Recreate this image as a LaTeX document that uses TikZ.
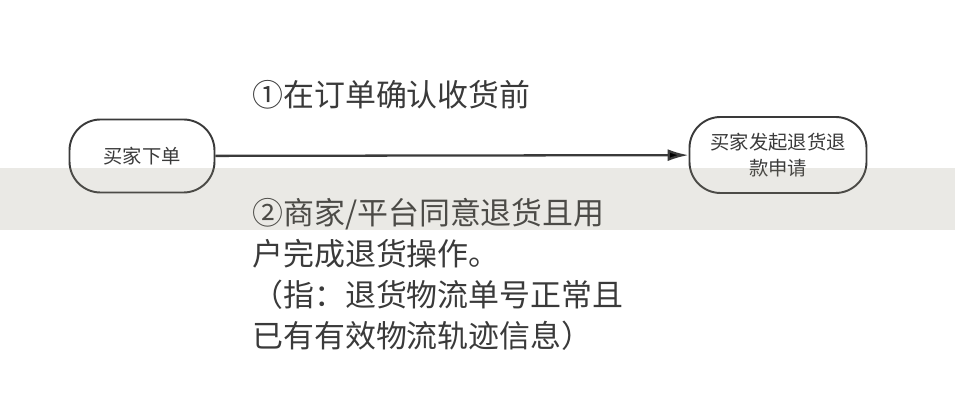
\documentclass[tikz,border=0pt]{standalone}
\usepackage{fontspec}
\setmainfont{Noto Sans CJK SC}
\usepackage{tikz}
\usetikzlibrary{arrows.meta}

\definecolor{ink}{RGB}{58,58,58}
\definecolor{band}{RGB}{150,145,125}

\begin{document}
\begin{tikzpicture}[
  roundbox/.style = {shape = rectangle, draw = ink, line width = 1.1pt,
    rounded corners = 0.62cm, align = center, text = ink,
    font = \fontsize{11}{14.5}\selectfont},
  steptext/.style = {inner sep = 0pt, align = left, text = ink,
    font = \fontsize{17.6}{23.4}\selectfont}
]
\useasboundingbox (0,0) rectangle (19.1,8);

\node (Order) at (2.84,4.88) [roundbox, minimum width = 2.9cm, minimum height = 1.46cm] {买家下单};

\node (Refund Request) at (15.56,4.9) [roundbox, minimum width = 3.54cm, minimum height = 1.52cm] {买家发起退货退\\款申请};

\node (Step One) at (5.04,6.1) [steptext, anchor = west] {①在订单确认收货前};

\node (Step Two) at (5.04,4.04) [steptext, anchor = north west] {②商家/平台同意退货且用\\户完成退货操作。\\（指：退货物流单号正常且\\已有有效物流轨迹信息）};

\path [-{Latex[length = 0.42cm, width = 0.24cm]}, draw = ink, line width = 1.3pt]
  (Order) edge (Refund Request);

% grey band over the middle
\fill [band, opacity = 0.2] (0,3.4) rectangle (19.1,4.64);
\end{tikzpicture}
\end{document}
